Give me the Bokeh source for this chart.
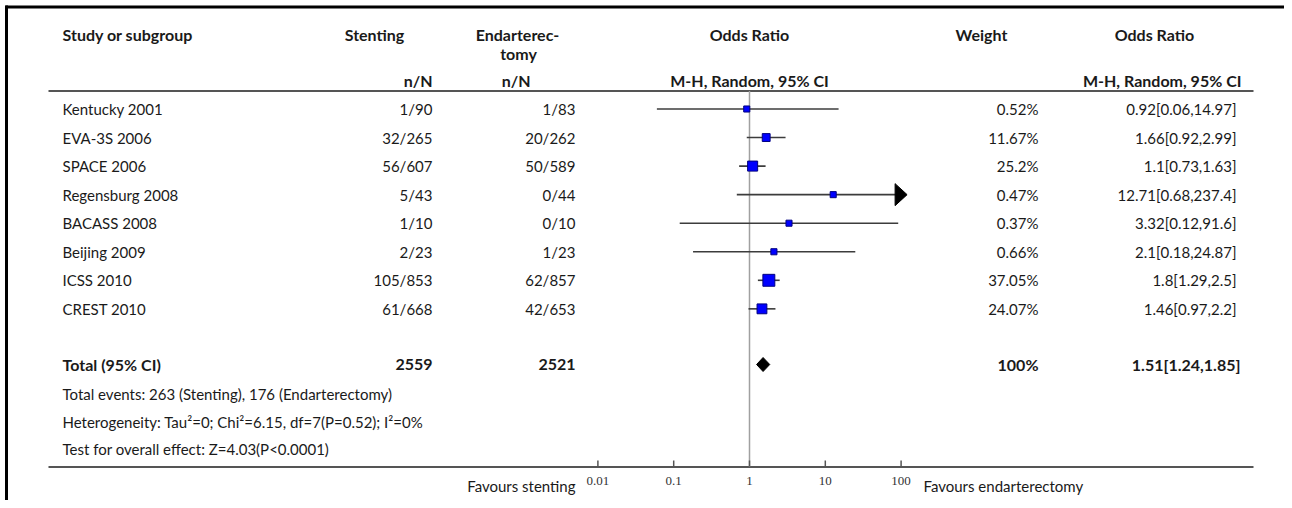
from bokeh.plotting import figure
from bokeh.models import Range1d, LogScale
from bokeh.core.properties import value
from bokeh.embed import file_html
from bokeh.resources import INLINE

# ---------------- data ----------------
studies = ["Kentucky 2001", "EVA-3S 2006", "SPACE 2006", "Regensburg 2008",
           "BACASS 2008", "Beijing 2009", "ICSS 2010", "CREST 2010"]
stent_events = [1, 32, 56, 5, 1, 2, 105, 61]
stent_total = [90, 265, 607, 43, 10, 23, 853, 668]
endo_events = [1, 20, 50, 0, 0, 1, 62, 42]
endo_total = [83, 262, 589, 44, 10, 23, 857, 653]
weights = [0.52, 11.67, 25.2, 0.47, 0.37, 0.66, 37.05, 24.07]
or_est = [0.92, 1.66, 1.1, 12.71, 3.32, 2.1, 1.8, 1.46]
or_lo = [0.06, 0.92, 0.73, 0.68, 0.12, 0.18, 1.29, 0.97]
or_hi = [14.97, 2.99, 1.63, 237.4, 91.6, 24.87, 2.5, 2.2]
total_stent = 2559
total_endo = 2521
total_weight = 100
total_or, total_lo, total_hi = 1.51, 1.24, 1.85
axis_ticks = [0.01, 0.1, 1, 10, 100]
axis_tick_labels = ["0.01", "0.1", "1", "10", "100"]
footnotes = [
    "Total events: 263 (Stenting), 176 (Endarterectomy)",
    "Heterogeneity: Tau\u00b2=0; Chi\u00b2=6.15, df=7(P=0.52); I\u00b2=0%",
    "Test for overall effect: Z=4.03(P<0.0001)",
]

# ---------------- layout constants ----------------
FONT = value("Lato")
FS = "15px"
FSB = "16px"
TXT = "#1a1a1a"
W, H = 1284, 500
PX_ONE = 749.0      # x of OR = 1
DECADE = 75.8       # pixels per decade
ROW0, STEP = 108.5, 28.55
AX_MIN, AX_MAX = axis_ticks[0], axis_ticks[-1]

p = figure(width=W, height=H, x_range=Range1d(0, W), y_range=Range1d(H, 0),
           output_backend="svg", toolbar_location=None, min_border=0,
           x_axis_location=None, y_axis_location=None)
p.grid.visible = False
p.outline_line_color = None
p.background_fill_color = "white"
p.extra_x_ranges = {"or": Range1d(10 ** ((0 - PX_ONE) / DECADE), 10 ** ((W - PX_ONE) / DECADE))}
p.extra_x_scales = {"or": LogScale()}

def txt(x, y, t, align="left", bold=False, size=None, color=TXT, font=FONT):
    if size is None:
        size = FSB if bold else FS
    p.text(x=x, y=y, text=t, text_align=align, text_baseline="middle",
           text_font=font, text_font_size=size, text_color=color,
           text_font_style="bold" if bold else "normal")

# frame borders
p.segment(x0=[5], x1=[W], y0=[6.5], y1=[6.5], line_color="black", line_width=3)
p.segment(x0=[6], x1=[6], y0=[5], y1=[H], line_color="black", line_width=3)

# headers
txt([62], [34], ["Study or subgroup"], bold=True)
txt([374], [34], ["Stenting"], align="center", bold=True)
txt([517], [34], ["Endarterec-"], align="center", bold=True)
txt([518], [53], ["tomy"], align="center", bold=True)
txt([749], [34], ["Odds Ratio"], align="center", bold=True)
txt([981], [34], ["Weight"], align="center", bold=True)
txt([1154], [34], ["Odds Ratio"], align="center", bold=True)
txt([432], [80], ["n/N"], align="right", bold=True)
txt([530], [80], ["n/N"], align="right", bold=True)
txt([749], [80], ["M-H, Random, 95% CI"], align="center", bold=True)
txt([1241], [80], ["M-H, Random, 95% CI"], align="right", bold=True)

# rules
p.segment(x0=[48, 48], x1=[1253, 1253], y0=[90.5, 466.5], y1=[90.5, 466.5],
          line_color="#555555", line_width=2)

ys = [ROW0 + i * STEP for i in range(len(studies))]

# rows text
txt([62] * len(ys), ys, studies)
txt([432] * len(ys), ys, [f"{a}/{b}" for a, b in zip(stent_events, stent_total)], align="right")
txt([575] * len(ys), ys, [f"{a}/{b}" for a, b in zip(endo_events, endo_total)], align="right")
txt([1038] * len(ys), ys, [f"{w:g}%" for w in weights], align="right")
txt([1236] * len(ys), ys, [f"{e:g}[{l:g},{h:g}]" for e, l, h in zip(or_est, or_lo, or_hi)], align="right")

# total row
y_tot = 364
txt([62], [y_tot], ["Total (95% CI)"], bold=True)
txt([432], [y_tot], [str(total_stent)], align="right", bold=True)
txt([575], [y_tot], [str(total_endo)], align="right", bold=True)
txt([1038], [y_tot], [f"{total_weight}%"], align="right", bold=True)
txt([1240], [y_tot], [f"{total_or:g}[{total_lo:g},{total_hi:g}]"], align="right", bold=True)

# footnotes
txt([62] * 3, [393, 421, 448], footnotes)

# vertical line at OR = 1
p.segment(x0=[1], x1=[1], y0=[90.5], y1=[466], x_range_name="or", line_color="#a0a0a0", line_width=1.5)

# CI lines (clipped to axis)
lo_c = [max(v, AX_MIN) for v in or_lo]
hi_c = [min(v, AX_MAX) for v in or_hi]
p.segment(x0=lo_c, x1=hi_c, y0=ys, y1=ys, x_range_name="or", line_color="#3c3c3c", line_width=1.6)

# arrow heads for clipped CIs
head_len = 12.0
for h, y in zip(or_hi, ys):
    if h > AX_MAX:
        base = AX_MAX / 10 ** (head_len / 2 / DECADE)
        tip = AX_MAX * 10 ** (head_len / 2 / DECADE)
        p.patch(x=[base, tip, base], y=[y - 11, y, y + 11], x_range_name="or",
                fill_color="black", line_color="black")

# study markers
sizes = [6 + 0.16 * w for w in weights]
p.scatter(x=or_est, y=ys, size=sizes, marker="square", x_range_name="or",
          fill_color="#0000ff", line_color="#000080", line_width=1)

# total diamond
p.patch(x=[total_lo, total_or, total_hi, total_or], y=[y_tot, y_tot - 7, y_tot, y_tot + 7],
        x_range_name="or", fill_color="black", line_color="black")

# axis ticks and labels
p.segment(x0=axis_ticks, x1=axis_ticks, y0=[466] * 5, y1=[460] * 5, x_range_name="or",
          line_color="#555555", line_width=1.5)
p.text(x=axis_ticks, y=[480] * 5, text=axis_tick_labels, x_range_name="or",
       text_align="center", text_baseline="middle", text_font=value("Liberation Serif"),
       text_font_size="13px", text_color="#333333")
txt([575], [485], ["Favours stenting"], align="right")
txt([923], [485], ["Favours endarterectomy"], align="left")

open("out.html", "w").write(file_html(p, INLINE))
